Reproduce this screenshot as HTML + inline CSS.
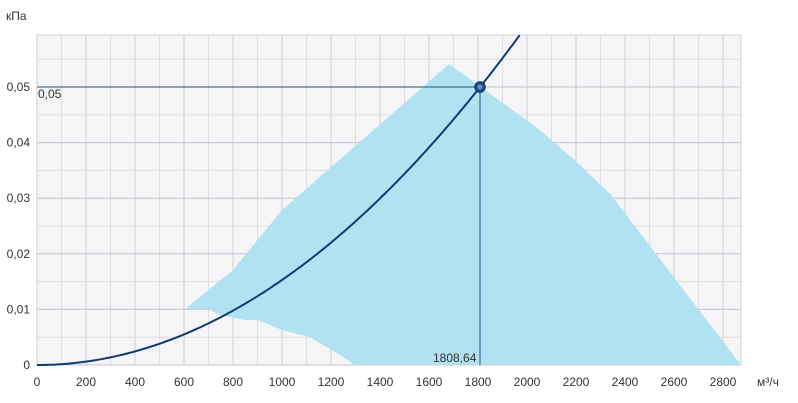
<!DOCTYPE html>
<html><head><meta charset="utf-8"><style>body{margin:0;background:#fff}svg{display:block}text{font-family:"Liberation Sans",sans-serif;font-size:12px;fill:#333}</style></head><body>
<svg width="798" height="403" viewBox="0 0 798 403">
<rect x="37" y="35" width="704" height="330" fill="#f5f5f7"/>
<g id="grid" stroke="#d9d9dc" stroke-width="1"></g>
<polygon fill="#b1e2f1" points="185,309 233,270 282,210 449,64 540,130 580,165 611,195 741,365 355,365 340,355 310,337 282,330 258,320 245,320 220,315 208,309"/>
<line x1="37" y1="87" x2="480" y2="87" stroke="#1e4f86" stroke-width="1"/>
<line x1="480" y1="87" x2="480" y2="365" stroke="#1e4f86" stroke-width="1"/>
<path id="curve" fill="none" stroke="#0d3b73" stroke-width="2"/>
<circle cx="480" cy="87" r="5" fill="#1e4f86" stroke="#0d3b73" stroke-width="1.5"/>
<circle cx="480" cy="87" r="2.5" fill="#6d8fb5"/>
<text x="6" y="20">кПа</text>
<text x="38" y="98">0,05</text>
<text x="433" y="362">1808,64</text>
<text x="757" y="386">м³/ч</text>
<g id="lab"></g>
</svg>
<script>
var g=document.getElementById('grid'),ns='http://www.w3.org/2000/svg',lab=document.getElementById('lab');
function L(a,b,c,d,col){var l=document.createElementNS(ns,'line');l.setAttribute('x1',a);l.setAttribute('y1',b);l.setAttribute('x2',c);l.setAttribute('y2',d);if(col)l.setAttribute('stroke',col);g.appendChild(l);}
function T(x,y,s,a){var t=document.createElementNS(ns,'text');t.setAttribute('x',x);t.setAttribute('y',y);t.setAttribute('text-anchor',a);t.textContent=s;lab.appendChild(t);}
for(var u=100;u<=2800;u+=100){var x=37+u*0.245;L(x,35,x,365,u%200?'#dedee2':'#cfcfd4');}
for(var i=1;i<=11;i++){var y=365-i*27.8;L(37,y,741,y,i%2?'#dedee2':'#c4c4ca');}
L(37,35,741,35,'#cfcfd4');L(741,35,741,365,'#cfcfd4');L(37,35,37,365,'#cfcfd4');L(37,365,741,365,'#c4c4ca');
for(var u=0;u<=2800;u+=200)T(37+u*0.245,386,u,'middle');
var yl=['0','0,01','0,02','0,03','0,04','0,05'];for(var i=0;i<6;i++)T(30,369-i*55.6,yl[i],'end');
var d='',k=0.05/(1808.64*1808.64);for(var u=0;u<=1972;u+=10){var x=37+u*0.245,y=365-k*u*u*5560;d+=(u?'L':'M')+x.toFixed(1)+','+y.toFixed(1);}
document.getElementById('curve').setAttribute('d',d);
</script>
</body></html>
